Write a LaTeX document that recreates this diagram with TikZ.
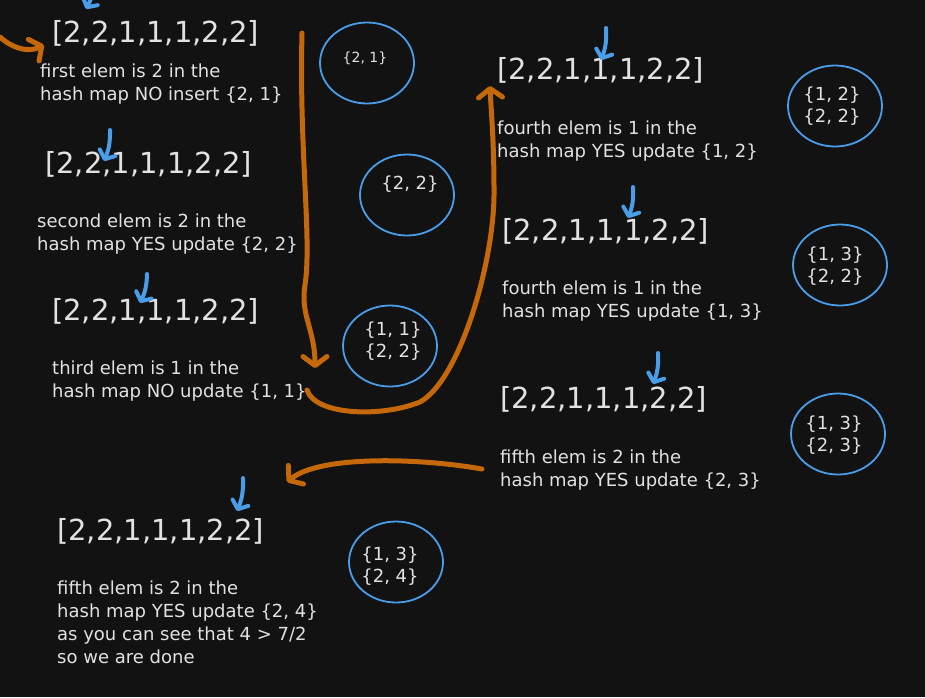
\documentclass[tikz,border=0pt]{standalone}
\usepackage{fontspec}
\setmainfont{DejaVu Sans}
\usetikzlibrary{arrows.meta,shapes.geometric}
\definecolor{bg}{HTML}{121212}
\definecolor{txt}{HTML}{E2E2E2}
\definecolor{blu}{HTML}{4A9DE8}
\definecolor{org}{HTML}{C4680A}
\begin{document}
\begin{tikzpicture}[x=1pt,y=-1pt,
  arr/.style={font=\fontsize{29}{30}\selectfont, text=txt, anchor=base west, inner sep=0pt},
  desc/.style={font=\fontsize{18}{23}\selectfont, text=txt, anchor=north west, inner sep=0pt, align=left},
  hm/.style={ellipse, draw=blu, line width=1.8pt, inner sep=0pt, minimum width=94pt, minimum height=81pt},
  hmtext/.style={font=\fontsize{18}{22}\selectfont, text=txt, align=center, inner sep=0pt},
  bluearr/.style={draw=blu, line width=4pt, line cap=round, -{Straight Barb[length=7pt,width=17pt,round]}},
  orgarr/.style={draw=org, line width=5pt, line cap=round, -{Straight Barb[length=9pt,width=24pt,round]}}
]
\fill[bg] (0,0) rectangle (925,697);
\clip (0,0) rectangle (925,697);

% arrays
\node[arr] (a1) at (52,42) {[2,2,1,1,1,2,2]};
\node[arr] (a2) at (45,173) {[2,2,1,1,1,2,2]};
\node[arr] (a3) at (52,320) {[2,2,1,1,1,2,2]};
\node[arr] (a4) at (497,79) {[2,2,1,1,1,2,2]};
\node[arr] (a5) at (502,240) {[2,2,1,1,1,2,2]};
\node[arr] (a6) at (500,408) {[2,2,1,1,1,2,2]};
\node[arr] (a7) at (57,540) {[2,2,1,1,1,2,2]};

% descriptions
\node[desc] (d1) at (40,64) {first elem is 2 in the\\hash map NO insert \{2, 1\}};
\node[desc] (d2) at (37,214) {second elem is 2 in the\\hash map YES update \{2, 2\}};
\node[desc] (d3) at (52,361) {third elem is 1 in the\\hash map NO update \{1, 1\}};
\node[desc] (d4) at (497,121) {fourth elem is 1 in the\\hash map YES update \{1, 2\}};
\node[desc] (d5) at (502,281) {fourth elem is 1 in the\\hash map YES update \{1, 3\}};
\node[desc] (d6) at (500,450) {fifth elem is 2 in the\\hash map YES update \{2, 3\}};
\node[desc] (d7) at (57,581) {fifth elem is 2 in the\\hash map YES update \{2, 4\}\\as you can see that 4 > 7/2\\so we are done};

% hash map circles
\node[hm] (c1) at (367,63) {};
\node[hm] (c2) at (407,195) {};
\node[hm] (c3) at (390,346) {};
\node[hm] (c4) at (835,106) {};
\node[hm] (c5) at (840,265) {};
\node[hm] (c6) at (838,434) {};
\node[hm] (c7) at (396,562) {};

\node[hmtext, font=\fontsize{14}{16}\selectfont] (l1) at (365,58) {\{2, 1\}};
\node[hmtext] (l2) at (410,184) {\{2, 2\}};
\node[hmtext] (l3) at (393,341) {\{1, 1\}\\\{2, 2\}};
\node[hmtext] (l4) at (832,106) {\{1, 2\}\\\{2, 2\}};
\node[hmtext] (l5) at (835,266) {\{1, 3\}\\\{2, 2\}};
\node[hmtext] (l6) at (834,435) {\{1, 3\}\\\{2, 3\}};
\node[hmtext] (l7) at (390,566) {\{1, 3\}\\\{2, 4\}};

% blue pointer arrows
\coordinate (b1s) at (94,-18);  \coordinate (b1e) at (86,9);
\coordinate (b2s) at (110,130); \coordinate (b2e) at (104,161);
\coordinate (b3s) at (147,274); \coordinate (b3e) at (140,303);
\coordinate (b4s) at (606,28);  \coordinate (b4e) at (601,60);
\coordinate (b5s) at (633,187); \coordinate (b5e) at (628,218);
\coordinate (b6s) at (658,353); \coordinate (b6e) at (653,384);
\coordinate (b7s) at (243,478); \coordinate (b7e) at (237,511);
\foreach \i in {1,...,7} {\draw[bluearr] (b\i s) to[bend left=12] (b\i e);}

% orange flow arrows
\coordinate (o1s) at (0,37);   \coordinate (o1e) at (44,45);
\coordinate (o2s) at (302,33); \coordinate (o2e) at (315,368);
\coordinate (o3s) at (307,390); \coordinate (o3e) at (490,86);
\coordinate (o4s) at (482,469); \coordinate (o4e) at (287,482);
\draw[orgarr] (o1s) .. controls (12,48) and (28,53) .. (o1e);
\draw[orgarr] (o2s) .. controls (299,150) and (312,240) .. (305,285) .. controls (300,315) and (315,330) .. (o2e);
\draw[orgarr] (o3s) .. controls (315,415) and (380,418) .. (420,402) .. controls (460,380) and (495,260) .. (494,190) .. controls (494,140) and (491,110) .. (o3e);
\draw[orgarr] (o4s) .. controls (420,458) and (320,455) .. (o4e);
\end{tikzpicture}
\end{document}
